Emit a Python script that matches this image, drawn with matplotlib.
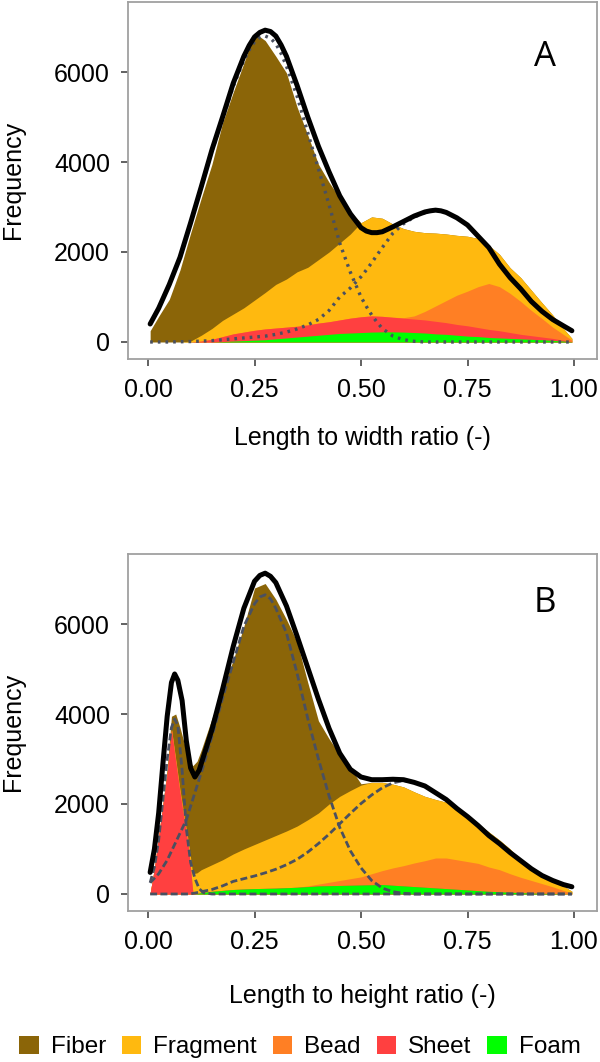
import matplotlib
matplotlib.use("Agg")
import matplotlib.pyplot as plt
from matplotlib.patches import Patch
import numpy as np

plt.rcParams['font.family'] = ['Liberation Sans', 'DejaVu Sans']

categories = ['Fiber', 'Fragment', 'Bead', 'Sheet', 'Foam']
colors = {'Fiber': '#8B6508', 'Fragment': '#FFB90F', 'Bead': '#FF7F24',
          'Sheet': '#FF4040', 'Foam': '#00FF00'}
xticks = [0.0, 0.25, 0.5, 0.75, 1.0]
xtick_labels = ['0.00', '0.25', '0.50', '0.75', '1.00']
yticks = [0, 2000, 4000, 6000]

# ---------------- Panel A: length to width ratio ----------------
xA = [0.005, 0.025, 0.05, 0.075, 0.1, 0.125, 0.15, 0.175, 0.2, 0.225, 0.25, 0.275,
      0.3, 0.325, 0.35, 0.375, 0.4, 0.425, 0.45, 0.475, 0.5, 0.525, 0.55, 0.575,
      0.6, 0.625, 0.65, 0.675, 0.7, 0.725, 0.75, 0.775, 0.8, 0.825, 0.85, 0.875,
      0.9, 0.925, 0.95, 0.975, 0.995]
fiberA = [250, 570, 950, 1600, 2400, 3050, 3650, 4390, 4930, 5440, 5940, 5600,
          5070, 4580, 3660, 2940, 2120, 1550, 1000, 500, 0, 0, 0, 0,
          0, 0, 0, 0, 0, 0, 0, 0, 0, 0, 0, 0, 0, 0, 0, 0, 0]
fragmentA = [0, 0, 0, 0, 20, 130, 240, 360, 440, 540, 670, 810,
             970, 1070, 1210, 1280, 1410, 1550, 1710, 1870, 2090, 2200, 2180, 2070,
             1980, 1880, 1750, 1620, 1480, 1330, 1220, 1070, 850, 720, 570, 530,
             450, 350, 270, 130, 40]
beadA = [0, 0, 0, 0, 0, 0, 0, 0, 0, 0, 0, 0,
         0, 0, 0, 0, 0, 0, 0, 0, 0, 0, 0, 0,
         10, 70, 190, 340, 490, 650, 770, 910, 1020, 980, 870, 730,
         560, 410, 250, 130, 30]
sheetA = [0, 0, 0, 0, 0, 20, 60, 110, 160, 190, 220, 240,
          240, 240, 240, 250, 270, 280, 300, 330, 350, 360, 345, 325,
          310, 300, 290, 280, 260, 240, 230, 200, 180, 160, 130, 100,
          80, 60, 45, 20, 5]
foamA = [0, 0, 0, 0, 0, 0, 0, 10, 20, 30, 40, 50,
         70, 90, 110, 130, 150, 170, 190, 200, 210, 220, 225, 225,
         220, 210, 200, 180, 170, 150, 130, 120, 100, 90, 80, 70,
         60, 50, 35, 20, 5]

xA_fit = [0.005, 0.025, 0.05, 0.075, 0.1, 0.125, 0.15, 0.175, 0.2, 0.225, 0.2375,
          0.25, 0.2625, 0.275, 0.2875, 0.3, 0.3125, 0.325, 0.35, 0.375, 0.4, 0.425,
          0.45, 0.475, 0.5, 0.5125, 0.525, 0.5375, 0.55, 0.575, 0.6, 0.625, 0.65,
          0.6625, 0.675, 0.6875, 0.7, 0.725, 0.75, 0.775, 0.8, 0.825, 0.85, 0.875,
          0.9, 0.925, 0.95, 0.975, 0.995]
fitA_total = [400, 750, 1280, 1880, 2650, 3450, 4270, 5000, 5750, 6350, 6590,
              6780, 6880, 6930, 6900, 6800, 6600, 6350, 5700, 5000, 4350, 3780,
              3250, 2850, 2540, 2465, 2430, 2430, 2450, 2560, 2680, 2800, 2890,
              2915, 2930, 2915, 2880, 2760, 2600, 2350, 2100, 1730, 1430, 1180,
              900, 680, 500, 360, 250]
fitA_fiber = [400, 750, 1280, 1875, 2640, 3430, 4240, 4950, 5680, 6260, 6490,
              6670, 6770, 6800, 6750, 6630, 6410, 6130, 5460, 4650, 3850, 3050,
              2200, 1550, 1000, 790, 600, 440, 300, 130, 50, 15, 0,
              0, 0, 0, 0, 0, 0, 0, 0, 0, 0, 0,
              0, 0, 0, 0, 0]
fitA_fragment = [0, 0, 0, 5, 10, 20, 30, 50, 70, 90, 100,
                 110, 120, 130, 150, 170, 195, 220, 290, 380, 500, 700,
                 1000, 1200, 1450, 1600, 1760, 1930, 2100, 2420, 2630, 2780, 2870,
                 2900, 2920, 2910, 2880, 2760, 2600, 2350, 2100, 1730, 1430, 1180,
                 900, 680, 500, 360, 250]

# ---------------- Panel B: length to height ratio ----------------
xB = [0.005, 0.015, 0.025, 0.035, 0.045, 0.055, 0.065, 0.075, 0.085, 0.095, 0.105,
      0.115, 0.125, 0.15, 0.175, 0.2, 0.225, 0.25, 0.275, 0.3, 0.325, 0.35, 0.375,
      0.4, 0.425, 0.45, 0.475, 0.5, 0.525, 0.55, 0.575, 0.6, 0.625, 0.65, 0.675,
      0.7, 0.725, 0.75, 0.775, 0.8, 0.825, 0.85, 0.875, 0.9, 0.925, 0.95, 0.975, 0.995]
fiberB = [0, 0, 0, 0, 100, 270, 1000, 1380, 1630, 1850, 2400,
          2480, 2660, 3250, 3790, 4310, 4950, 5700, 5700, 5250, 4700, 4090, 3050,
          2050, 1450, 930, 500, 30, 0, 0, 0, 0, 0, 0, 0,
          0, 0, 0, 0, 0, 0, 0, 0, 0, 0, 0, 0, 0]
fragmentB = [0, 0, 0, 0, 0, 30, 50, 60, 70, 100, 390,
             460, 510, 590, 680, 790, 890, 980, 1075, 1170, 1260, 1360, 1470,
             1580, 1740, 1870, 1960, 2040, 2030, 1960, 1860, 1750, 1580, 1430, 1300,
             1240, 1190, 1030, 880, 780, 660, 550, 360, 280, 190, 150, 100, 40]
beadB = [0, 0, 0, 0, 0, 0, 0, 0, 0, 0, 0,
         0, 0, 0, 0, 0, 0, 0, 0, 0, 0, 0, 15,
         40, 75, 110, 145, 180, 245, 310, 385, 450, 525, 590, 665,
         680, 655, 630, 605, 540, 490, 410, 340, 280, 215, 150, 75, 20]
sheetB = [20, 570, 1300, 2000, 2700, 3650, 2950, 2260, 1650, 1050, 60,
          0, 0, 0, 0, 0, 0, 0, 0, 0, 0, 0, 0,
          0, 0, 0, 0, 0, 0, 0, 0, 0, 0, 0, 0,
          0, 0, 0, 0, 0, 0, 0, 0, 0, 0, 0, 0, 0]
foamB = [0, 0, 0, 0, 0, 0, 0, 0, 0, 0, 0,
         10, 30, 60, 80, 100, 110, 120, 125, 130, 140, 150, 165,
         180, 185, 190, 195, 200, 205, 210, 195, 180, 165, 150, 135,
         120, 105, 90, 75, 60, 50, 40, 30, 20, 15, 10, 5, 0]

xB_fit = [0.005, 0.015, 0.025, 0.035, 0.045, 0.055, 0.0625, 0.07, 0.08, 0.09, 0.1,
          0.11, 0.12, 0.13, 0.15, 0.175, 0.2, 0.225, 0.25, 0.2625, 0.275, 0.2875,
          0.3, 0.325, 0.35, 0.375, 0.4, 0.425, 0.45, 0.475, 0.5, 0.525, 0.55,
          0.575, 0.6, 0.625, 0.65, 0.675, 0.7, 0.725, 0.75, 0.775, 0.8, 0.825,
          0.85, 0.875, 0.9, 0.925, 0.95, 0.975, 0.995]
fitB_total = [480, 1000, 1800, 2900, 3950, 4700, 4890, 4750, 4300, 3400, 2800,
              2600, 2750, 3050, 3650, 4550, 5500, 6350, 6950, 7080, 7130, 7060,
              6920, 6400, 5730, 5030, 4330, 3680, 3130, 2770, 2600, 2540, 2540,
              2550, 2540, 2480, 2400, 2250, 2100, 1900, 1720, 1520, 1300, 1120,
              920, 740, 560, 410, 300, 210, 160]
fitB_sheet = [250, 600, 1200, 2100, 3000, 3700, 3890, 3750, 2750, 1450, 700,
              350, 120, 30, 0, 0, 0, 0, 0, 0, 0, 0,
              0, 0, 0, 0, 0, 0, 0, 0, 0, 0, 0,
              0, 0, 0, 0, 0, 0, 0, 0, 0, 0, 0,
              0, 0, 0, 0, 0, 0, 0]
fitB_fiber = [250, 350, 450, 600, 750, 950, 1100, 1250, 1450, 1650, 1950,
              2250, 2550, 2850, 3500, 4350, 5150, 5950, 6450, 6600, 6650, 6560,
              6350, 5800, 4900, 3900, 3000, 2180, 1480, 960, 580, 300, 130,
              50, 15, 0, 0, 0, 0, 0, 0, 0, 0, 0,
              0, 0, 0, 0, 0, 0, 0]
fitB_fragment = [0, 0, 0, 0, 0, 0, 0, 0, 0, 0, 5,
                 20, 40, 60, 100, 180, 280, 340, 400, 435, 470, 510,
                 550, 650, 770, 930, 1120, 1330, 1560, 1790, 2010, 2200, 2360,
                 2470, 2520, 2480, 2400, 2250, 2100, 1900, 1720, 1520, 1300, 1120,
                 920, 740, 560, 410, 300, 210, 160]

# ---------------- drawing ----------------
W, H = 600, 1062
fig = plt.figure(figsize=(W / 100, H / 100), dpi=100)

def axes_rect(left, top, right, bottom):
    return [left / W, 1 - bottom / H, (right - left) / W, (bottom - top) / H]

axA = fig.add_axes(axes_rect(128, 2, 597, 359))
axB = fig.add_axes(axes_rect(128, 554, 597, 911))

comp_color = '#4a5060'

def draw_panel(ax, x, layers, fit_x, comps, total, letter, letter_y, style, comp_lw):
    # stacked bottom->top: Foam, Sheet, Bead, Fragment, Fiber
    order = ['Foam', 'Sheet', 'Bead', 'Fragment', 'Fiber']
    arr = np.array([layers[c] for c in order], dtype=float)
    cum = np.cumsum(arr, axis=0)
    for i in reversed(range(len(order))):
        ax.fill_between(x, 0, cum[i], color=colors[order[i]], lw=0, zorder=2)
    for comp in comps:
        ax.plot(fit_x, comp, color=comp_color, lw=comp_lw, linestyle=style, zorder=3)
    ax.plot(fit_x, total, color='black', lw=3.6, solid_capstyle='round',
            solid_joinstyle='round', zorder=4)
    ax.set_xlim(-0.047, 1.054)
    ax.set_ylim(-378, 7556)
    ax.set_xticks(xticks)
    ax.set_xticklabels(xtick_labels)
    ax.set_yticks(yticks)
    ax.set_yticklabels([str(v) for v in yticks])
    for sp in ax.spines.values():
        sp.set_color('#a0a0a0')
        sp.set_linewidth(1.3)
    ax.tick_params(direction='out', length=5, width=1.3, color='#555555',
                   labelsize=18, labelcolor='black')
    ax.tick_params(axis='y', pad=8)
    ax.tick_params(axis='x', pad=9)
    ax.text(0.889, letter_y, letter, transform=ax.transAxes, fontsize=25,
            family=['Open Sans', 'DejaVu Sans'], ha='center', va='center', zorder=5)

draw_panel(axA, xA,
           {'Fiber': fiberA, 'Fragment': fragmentA, 'Bead': beadA,
            'Sheet': sheetA, 'Foam': foamA},
           xA_fit, [fitA_fiber, fitA_fragment], fitA_total, 'A', 0.846,
           (0, (0.8, 1.5)), 2.4)
draw_panel(axB, xB,
           {'Fiber': fiberB, 'Fragment': fragmentB, 'Bead': beadB,
            'Sheet': sheetB, 'Foam': foamB},
           xB_fit, [fitB_sheet, fitB_fiber, fitB_fragment], fitB_total, 'B', 0.863,
           (0, (2.5, 1.2)), 2.0)

fig.text(13 / W, 1 - 180 / H, 'Frequency', rotation=90, ha='center', va='center', fontsize=18)
fig.text(13 / W, 1 - 732 / H, 'Frequency', rotation=90, ha='center', va='center', fontsize=18)
fig.text(362 / W, 1 - 438 / H, 'Length to width ratio (-)', ha='center', va='center', fontsize=18)
fig.text(362 / W, 1 - 996 / H, 'Length to height ratio (-)', ha='center', va='center', fontsize=18)

handles = [Patch(facecolor=colors[c], edgecolor='none', label=c) for c in categories]
fig.legend(handles=handles, loc='center', bbox_to_anchor=(0.5, 1 - 1047 / H), ncol=5,
           frameon=False, fontsize=17.5, handlelength=0.8, handleheight=0.8,
           handletextpad=0.5, columnspacing=0.65, borderaxespad=0, borderpad=0)

fig.savefig('out.png', dpi=100)
